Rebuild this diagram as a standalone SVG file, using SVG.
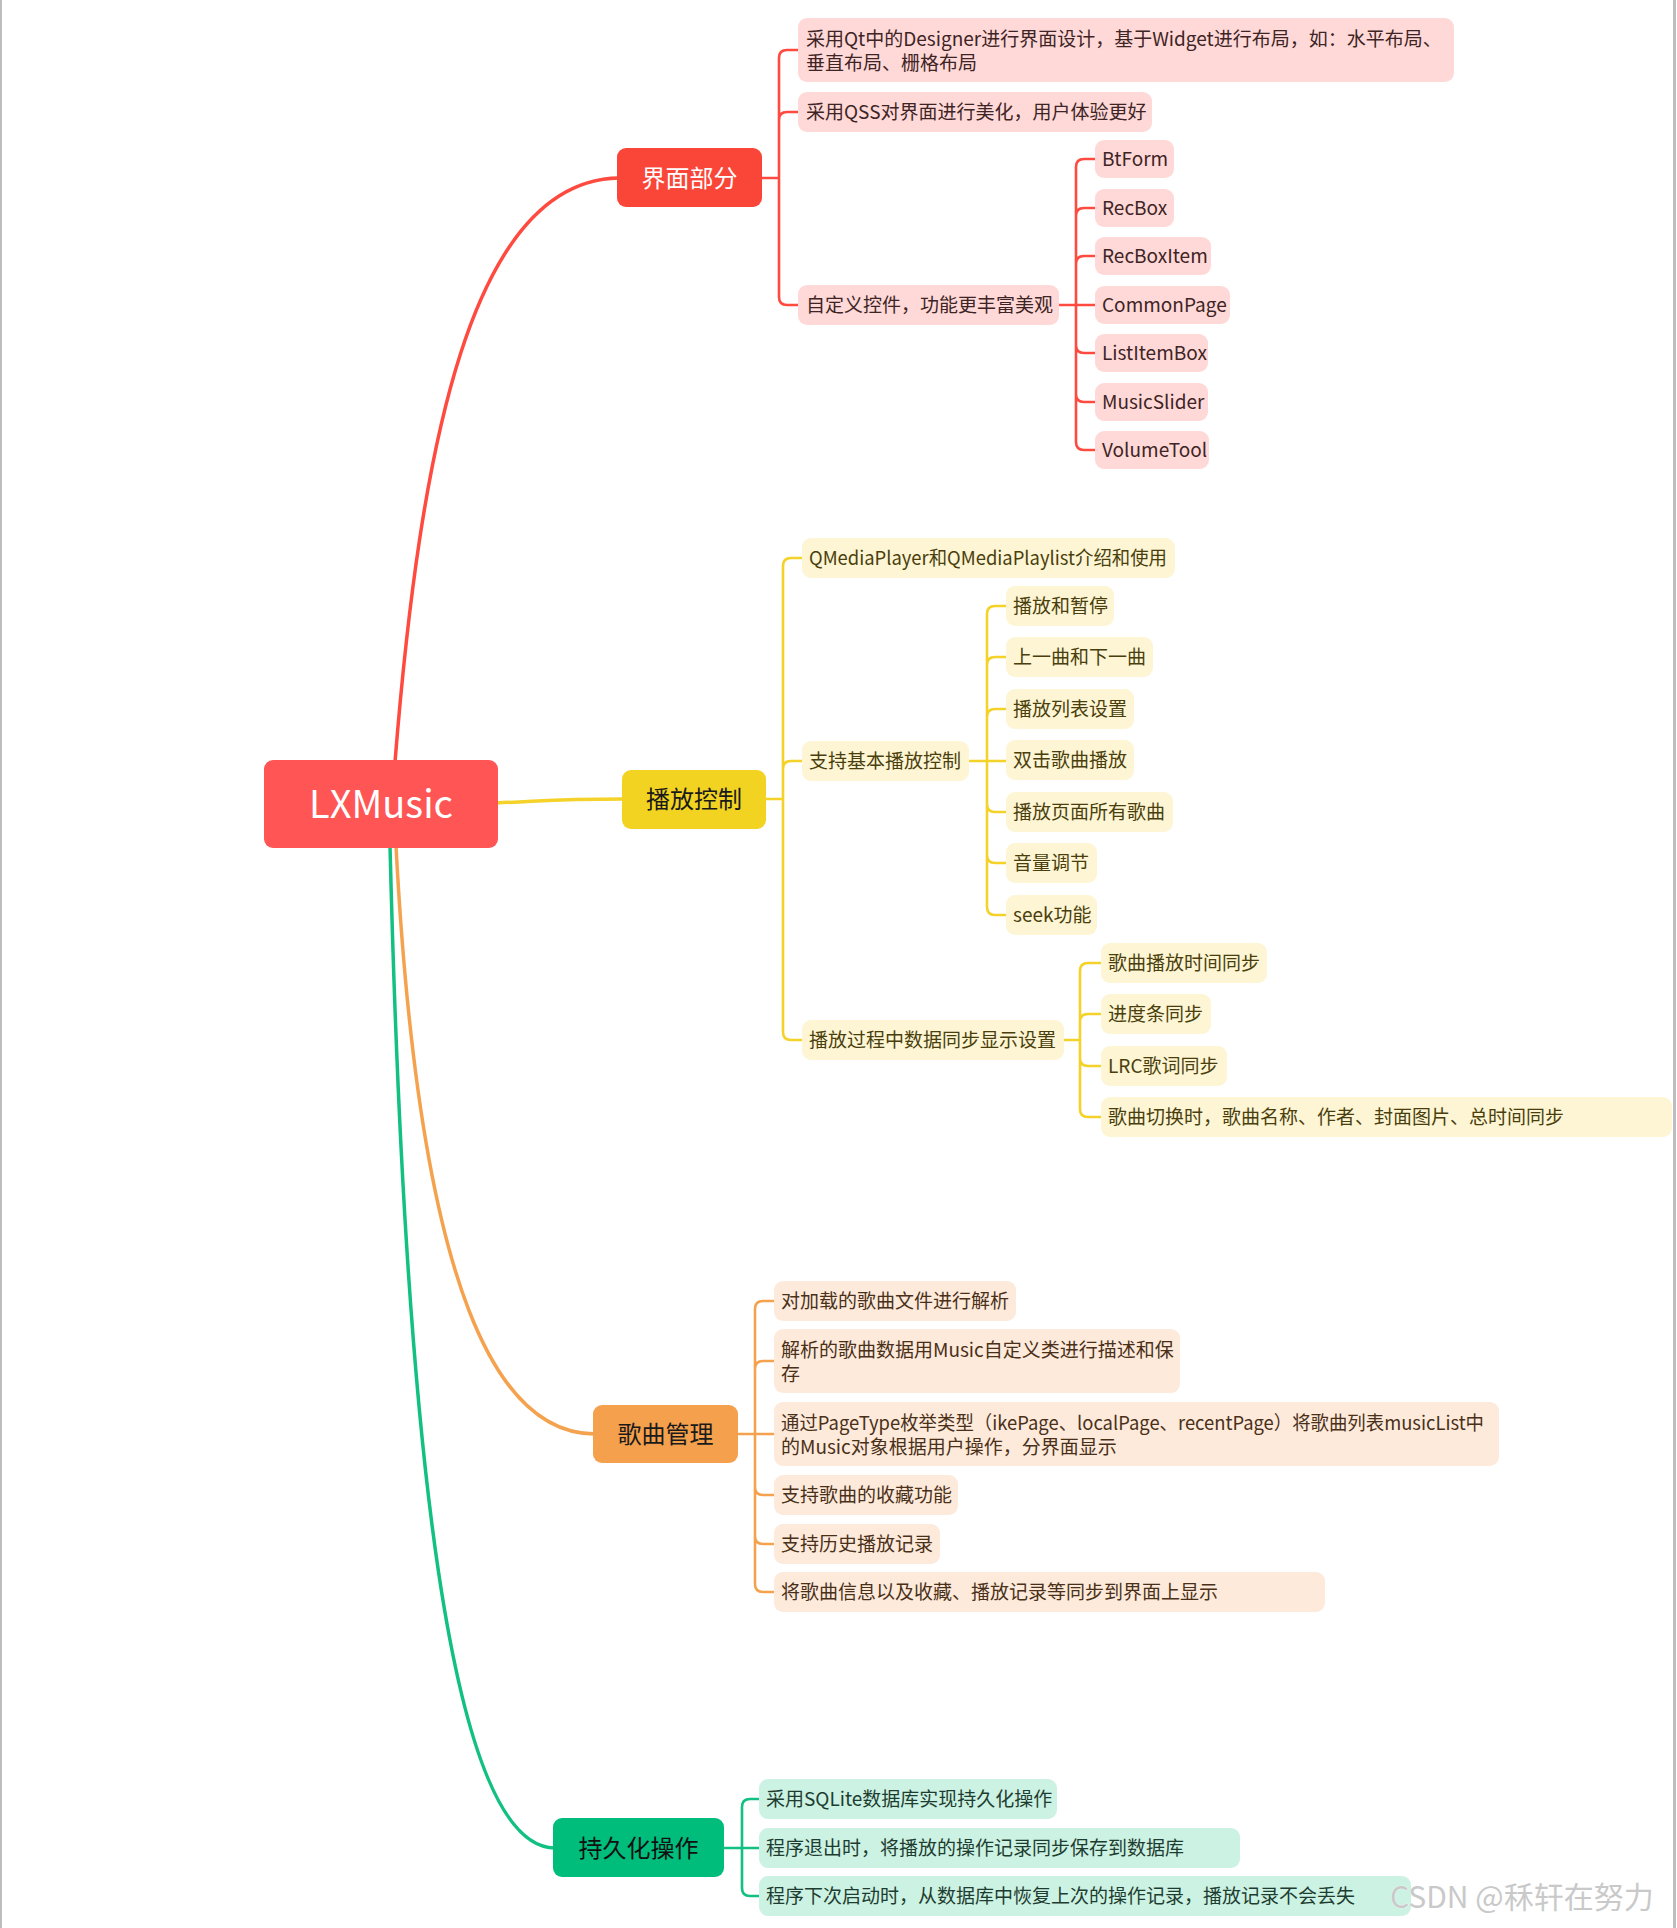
<svg xmlns="http://www.w3.org/2000/svg" width="1677" height="1928" viewBox="0 0 1677 1928">
<style>
text{font-family:"Noto Sans CJK SC","Noto Sans",sans-serif;}
.c{fill:none;stroke-linecap:round;stroke-linejoin:round;}
.cr{stroke:#FF4A40;}
.cy{stroke:#F4D229;}
.co{stroke:#F5A24F;}
.cg{stroke:#12C082;}
.w1{stroke-width:3.5;}
.w2{stroke-width:2.6;}
.nr rect{fill:#FFD9D8;}
.ny rect{fill:#FDF5D4;}
.no rect{fill:#FDEADB;}
.ng rect{fill:#CCF2E3;}
.t{font-size:19px;}
.nr text{fill:#3E2424;}
.ny text{fill:#4A3F0C;}
.no text{fill:#4A3018;}
.ng text{fill:#1E3D30;}
.l1{font-size:24px;text-anchor:middle;}
</style>
<rect x="0" y="0" width="1677" height="1928" fill="#FFFFFF"/>
<line x1="1" y1="0" x2="1" y2="1928" stroke="#BDBDBD" stroke-width="2"/>
<line x1="1674.5" y1="0" x2="1674.5" y2="1928" stroke="#BDBDBD" stroke-width="3"/>

<g id="connectors">
  <path class="c cr w1" d="M395 762 C420 450 470 180 619 178"/>
  <path class="c cy w1" d="M496 803 C560 800 560 799 624 799"/>
  <path class="c co w1" d="M396 846 C420 1300 500 1434 595 1434"/>
  <path class="c cg w1" d="M390 846 C405 1450 450 1848 555 1848"/>

  <path class="c cr w2" d="M762 178 H779 M779 58 V297 M779 58 Q779 50 787 50 H798 M779 120 Q779 112 787 112 H798 M779 297 Q779 305 787 305 H798"/>
  <path class="c cr w2" d="M1059 305 H1095 M1076 167 V442 M1076 167 Q1076 159 1084 159 H1095 M1076 216 Q1076 208 1084 208 H1095 M1076 264 Q1076 256 1084 256 H1095 M1076 345 Q1076 353 1084 353 H1095 M1076 394 Q1076 402 1084 402 H1095 M1076 442 Q1076 450 1084 450 H1095"/>

  <path class="c cy w2" d="M766 799 H783 M783 566 V1032 M783 566 Q783 558 791 558 H802 M783 769 Q783 761 791 761 H802 M783 1032 Q783 1040 791 1040 H802"/>
  <path class="c cy w2" d="M969 761 H1006 M987 614 V907 M987 614 Q987 606 995 606 H1006 M987 665 Q987 657 995 657 H1006 M987 717 Q987 709 995 709 H1006 M987 804 Q987 812 995 812 H1006 M987 855 Q987 863 995 863 H1006 M987 907 Q987 915 995 915 H1006"/>
  <path class="c cy w2" d="M1064 1040 H1080 M1080 971 V1109 M1080 971 Q1080 963 1088 963 H1101 M1080 1022 Q1080 1014 1088 1014 H1101 M1080 1058 Q1080 1066 1088 1066 H1101 M1080 1109 Q1080 1117 1088 1117 H1101"/>

  <path class="c co w2" d="M738 1434 H774 M755 1309 V1584 M755 1309 Q755 1301 763 1301 H774 M755 1369 Q755 1361 763 1361 H774 M755 1487 Q755 1495 763 1495 H774 M755 1536 Q755 1544 763 1544 H774 M755 1584 Q755 1592 763 1592 H774"/>

  <path class="c cg w2" d="M724 1848 H759 M742 1807 V1888 M742 1807 Q742 1799 750 1799 H759 M742 1888 Q742 1896 750 1896 H759"/>
</g>

<g id="root">
  <rect x="264" y="760" width="234" height="88" rx="9" fill="#FF5555"/>
  <text x="381" y="818" font-family="'Noto Sans',sans-serif" font-size="38" fill="#FFFFFF" text-anchor="middle">LXMusic</text>
</g>

<g id="n-ui">
  <rect x="617" y="148" width="145" height="59" rx="9" fill="#FA4539"/>
  <text class="l1" x="689.5" y="187" fill="#FFFFFF">界面部分</text>
</g>
<g id="n-play">
  <rect x="622" y="770" width="144" height="59" rx="9" fill="#F2D321"/>
  <text class="l1" x="694" y="808" fill="#1A1A1A">播放控制</text>
</g>
<g id="n-song">
  <rect x="593" y="1405" width="145" height="58" rx="9" fill="#F5A04C"/>
  <text class="l1" x="665.5" y="1443" fill="#1A1A1A">歌曲管理</text>
</g>
<g id="n-persist">
  <rect x="553" y="1818" width="171" height="59" rx="9" fill="#00BD7C"/>
  <text class="l1" x="638.5" y="1857" fill="#111111">持久化操作</text>
</g>

<!-- red branch -->
<g id="n-ui-1" class="nr"><rect x="798" y="18" width="656" height="64" rx="9"/><text class="t" x="806" y="46">采用Qt中的Designer进行界面设计，基于Widget进行布局，如：水平布局、</text><text class="t" x="806" y="70">垂直布局、栅格布局</text></g>
<g id="n-ui-2" class="nr"><rect x="798" y="92" width="354" height="40" rx="9"/><text class="t" x="806" y="119">采用QSS对界面进行美化，用户体验更好</text></g>
<g id="n-ui-3" class="nr"><rect x="798" y="285" width="261" height="40" rx="9"/><text class="t" x="806" y="312">自定义控件，功能更丰富美观</text></g>
<g id="n-ui-3-1" class="nr"><rect x="1095" y="140" width="79" height="38" rx="9"/><text class="t" x="1102" y="166">BtForm</text></g>
<g id="n-ui-3-2" class="nr"><rect x="1095" y="189" width="79" height="38" rx="9"/><text class="t" x="1102" y="215">RecBox</text></g>
<g id="n-ui-3-3" class="nr"><rect x="1095" y="237" width="116" height="38" rx="9"/><text class="t" x="1102" y="263">RecBoxItem</text></g>
<g id="n-ui-3-4" class="nr"><rect x="1095" y="286" width="135" height="38" rx="9"/><text class="t" x="1102" y="312">CommonPage</text></g>
<g id="n-ui-3-5" class="nr"><rect x="1095" y="334" width="113" height="38" rx="9"/><text class="t" x="1102" y="360">ListItemBox</text></g>
<g id="n-ui-3-6" class="nr"><rect x="1095" y="383" width="113" height="38" rx="9"/><text class="t" x="1102" y="409">MusicSlider</text></g>
<g id="n-ui-3-7" class="nr"><rect x="1095" y="431" width="114" height="38" rx="9"/><text class="t" x="1102" y="457">VolumeTool</text></g>

<!-- yellow branch -->
<g id="n-play-1" class="ny"><rect x="802" y="538" width="373" height="40" rx="9"/><text class="t" x="809" y="565" textLength="358" lengthAdjust="spacingAndGlyphs">QMediaPlayer和QMediaPlaylist介绍和使用</text></g>
<g id="n-play-2" class="ny"><rect x="802" y="741" width="167" height="40" rx="9"/><text class="t" x="809" y="768">支持基本播放控制</text></g>
<g id="n-play-3" class="ny"><rect x="802" y="1020" width="262" height="40" rx="9"/><text class="t" x="809" y="1047">播放过程中数据同步显示设置</text></g>
<g id="n-play-2-1" class="ny"><rect x="1006" y="586" width="108" height="40" rx="9"/><text class="t" x="1013" y="613">播放和暂停</text></g>
<g id="n-play-2-2" class="ny"><rect x="1006" y="637" width="147" height="40" rx="9"/><text class="t" x="1013" y="664">上一曲和下一曲</text></g>
<g id="n-play-2-3" class="ny"><rect x="1006" y="689" width="128" height="40" rx="9"/><text class="t" x="1013" y="716">播放列表设置</text></g>
<g id="n-play-2-4" class="ny"><rect x="1006" y="740" width="128" height="40" rx="9"/><text class="t" x="1013" y="767">双击歌曲播放</text></g>
<g id="n-play-2-5" class="ny"><rect x="1006" y="792" width="167" height="40" rx="9"/><text class="t" x="1013" y="819">播放页面所有歌曲</text></g>
<g id="n-play-2-6" class="ny"><rect x="1006" y="843" width="91" height="40" rx="9"/><text class="t" x="1013" y="870">音量调节</text></g>
<g id="n-play-2-7" class="ny"><rect x="1006" y="895" width="91" height="40" rx="9"/><text class="t" x="1013" y="922">seek功能</text></g>
<g id="n-play-3-1" class="ny"><rect x="1101" y="943" width="166" height="40" rx="9"/><text class="t" x="1108" y="970">歌曲播放时间同步</text></g>
<g id="n-play-3-2" class="ny"><rect x="1101" y="994" width="110" height="40" rx="9"/><text class="t" x="1108" y="1021">进度条同步</text></g>
<g id="n-play-3-3" class="ny"><rect x="1101" y="1046" width="126" height="40" rx="9"/><text class="t" x="1108" y="1073">LRC歌词同步</text></g>
<g id="n-play-3-4" class="ny"><rect x="1101" y="1097" width="571" height="40" rx="9"/><text class="t" x="1108" y="1124">歌曲切换时，歌曲名称、作者、封面图片、总时间同步</text></g>

<!-- orange branch -->
<g id="n-song-1" class="no"><rect x="774" y="1281" width="242" height="40" rx="9"/><text class="t" x="781" y="1308">对加载的歌曲文件进行解析</text></g>
<g id="n-song-2" class="no"><rect x="774" y="1329" width="406" height="64" rx="9"/><text class="t" x="781" y="1357">解析的歌曲数据用Music自定义类进行描述和保</text><text class="t" x="781" y="1381">存</text></g>
<g id="n-song-3" class="no"><rect x="774" y="1402" width="725" height="64" rx="9"/><text class="t" x="781" y="1430" textLength="703" lengthAdjust="spacingAndGlyphs">通过PageType枚举类型（ikePage、localPage、recentPage）将歌曲列表musicList中</text><text class="t" x="781" y="1454">的Music对象根据用户操作，分界面显示</text></g>
<g id="n-song-4" class="no"><rect x="774" y="1475" width="184" height="40" rx="9"/><text class="t" x="781" y="1502">支持歌曲的收藏功能</text></g>
<g id="n-song-5" class="no"><rect x="774" y="1524" width="166" height="40" rx="9"/><text class="t" x="781" y="1551">支持历史播放记录</text></g>
<g id="n-song-6" class="no"><rect x="774" y="1572" width="551" height="40" rx="9"/><text class="t" x="781" y="1599">将歌曲信息以及收藏、播放记录等同步到界面上显示</text></g>

<!-- green branch -->
<g id="n-persist-1" class="ng"><rect x="759" y="1779" width="298" height="40" rx="9"/><text class="t" x="766" y="1806">采用SQLite数据库实现持久化操作</text></g>
<g id="n-persist-2" class="ng"><rect x="759" y="1828" width="481" height="40" rx="9"/><text class="t" x="766" y="1855">程序退出时，将播放的操作记录同步保存到数据库</text></g>
<g id="n-persist-3" class="ng"><rect x="759" y="1876" width="652" height="40" rx="9"/><text class="t" x="766" y="1903">程序下次启动时，从数据库中恢复上次的操作记录，播放记录不会丢失</text></g>

<text x="1390" y="1908" font-family="'Liberation Sans','Noto Sans CJK SC',sans-serif" font-size="30" fill="#C9C9C9" stroke="#FFFFFF" stroke-width="0.6" paint-order="stroke">CSDN @秝轩在努力</text>
</svg>
